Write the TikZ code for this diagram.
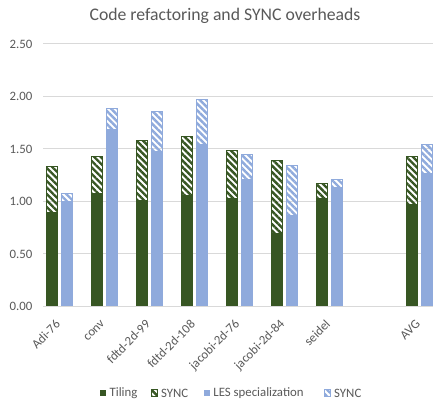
\documentclass[tikz,border=0pt]{standalone}
\usepackage{fontspec}
\setmainfont{Carlito}
\usetikzlibrary{patterns.meta,positioning}
\definecolor{tilegreen}{HTML}{375623}
\definecolor{lesblue}{HTML}{8FAADC}
\definecolor{gridgray}{HTML}{D9D9D9}
\definecolor{labelgray}{HTML}{595959}

\begin{document}
\begin{tikzpicture}[x=1pt,y=1pt,
	tiling/.style = {fill=tilegreen},
	tilesync/.style = {draw=tilegreen, line width=.7pt, pattern={Lines[angle=-45,distance=4.6pt,line width=2.4pt]}, pattern color=tilegreen},
	les/.style = {fill=lesblue},
	lessync/.style = {draw=lesblue, line width=.7pt, pattern={Lines[angle=-45,distance=4.6pt,line width=2.4pt]}, pattern color=lesblue},
	gridline/.style = {draw=gridgray, line width=1pt},
	small/.style = {text=labelgray, font=\fontsize{12.8}{14}\selectfont, inner sep=0pt},
	tick/.style = {small, anchor=east},
	cat/.style = {small, anchor=east, rotate=45},
	key/.style = {minimum size=6.5pt, inner sep=0pt}]
	\fill[white] (0,0) rectangle (433,401);
	\useasboundingbox (0,0) rectangle (433,401);
	\node[text=labelgray, font=\fontsize{17.7}{20}\selectfont] (title) at (225,385) {Code refactoring and SYNC overheads};
	\begin{scope}[shift={(59.3,94.5)}, x=45pt, y=105pt]
		\draw[gridline] (-0.362,0) -- (8.31,0);
		\draw[gridline] (-0.362,0.5) -- (8.31,0.5);
		\draw[gridline] (-0.362,1) -- (8.31,1);
		\draw[gridline] (-0.362,1.5) -- (8.31,1.5);
		\draw[gridline] (-0.362,2) -- (8.31,2);
		\draw[gridline] (-0.362,2.5) -- (8.31,2.5);
		\node[tick] (y0) at (-0.596,0) {0.00};
		\node[tick] (y1) at (-0.596,0.5) {0.50};
		\node[tick] (y2) at (-0.596,1) {1.00};
		\node[tick] (y3) at (-0.596,1.5) {1.50};
		\node[tick] (y4) at (-0.596,2) {2.00};
		\node[tick] (y5) at (-0.596,2.5) {2.50};
		\fill[tiling] (-0.295,0) rectangle (-0.04,0.90);
		\draw[tilesync] (-0.295,0.90) rectangle (-0.04,1.33);
		\fill[les] (0.04,0) rectangle (0.295,1.00);
		\draw[lessync] (0.04,1.00) rectangle (0.295,1.08);
		\fill[tiling] (0.705,0) rectangle (0.96,1.08);
		\draw[tilesync] (0.705,1.08) rectangle (0.96,1.43);
		\fill[les] (1.04,0) rectangle (1.295,1.69);
		\draw[lessync] (1.04,1.69) rectangle (1.295,1.89);
		\fill[tiling] (1.705,0) rectangle (1.96,1.01);
		\draw[tilesync] (1.705,1.01) rectangle (1.96,1.58);
		\fill[les] (2.04,0) rectangle (2.295,1.48);
		\draw[lessync] (2.04,1.48) rectangle (2.295,1.86);
		\fill[tiling] (2.705,0) rectangle (2.96,1.06);
		\draw[tilesync] (2.705,1.06) rectangle (2.96,1.62);
		\fill[les] (3.04,0) rectangle (3.295,1.54);
		\draw[lessync] (3.04,1.54) rectangle (3.295,1.97);
		\fill[tiling] (3.705,0) rectangle (3.96,1.03);
		\draw[tilesync] (3.705,1.03) rectangle (3.96,1.49);
		\fill[les] (4.04,0) rectangle (4.295,1.21);
		\draw[lessync] (4.04,1.21) rectangle (4.295,1.45);
		\fill[tiling] (4.705,0) rectangle (4.96,0.70);
		\draw[tilesync] (4.705,0.70) rectangle (4.96,1.39);
		\fill[les] (5.04,0) rectangle (5.295,0.87);
		\draw[lessync] (5.04,0.87) rectangle (5.295,1.34);
		\fill[tiling] (5.705,0) rectangle (5.96,1.03);
		\draw[tilesync] (5.705,1.03) rectangle (5.96,1.17);
		\fill[les] (6.04,0) rectangle (6.295,1.13);
		\draw[lessync] (6.04,1.13) rectangle (6.295,1.21);
		\fill[tiling] (7.705,0) rectangle (7.96,0.97);
		\draw[tilesync] (7.705,0.97) rectangle (7.96,1.43);
		\fill[les] (8.04,0) rectangle (8.295,1.27);
		\draw[lessync] (8.04,1.27) rectangle (8.295,1.54);
		\node[cat] (c1) at (-0.03,-0.148) {Adi-76};
		\node[cat] (c2) at (0.97,-0.148) {conv};
		\node[cat] (c3) at (1.97,-0.148) {fdtd-2d-99};
		\node[cat] (c4) at (2.97,-0.148) {fdtd-2d-108};
		\node[cat] (c5) at (3.97,-0.148) {jacobi-2d-76};
		\node[cat] (c6) at (4.97,-0.148) {jacobi-2d-84};
		\node[cat] (c7) at (5.97,-0.148) {seidel};
		\node[cat] (c8) at (7.97,-0.148) {AVG};
	\end{scope}
	\node[key, tiling] (k1) at (103,8) {};
	\node[small] (t1) [right=3pt of k1] {Tiling};
	\node[key, tilesync] (k2) [right=13pt of t1] {};
	\node[small] (t2) [right=3pt of k2] {SYNC};
	\node[key, les] (k3) [right=15pt of t2] {};
	\node[small] (t3) [right=3pt of k3] {LES specialization};
	\node[key, lessync] (k4) [right=20pt of t3] {};
	\node[small] (t4) [right=3pt of k4] {SYNC};
\end{tikzpicture}
\end{document}
